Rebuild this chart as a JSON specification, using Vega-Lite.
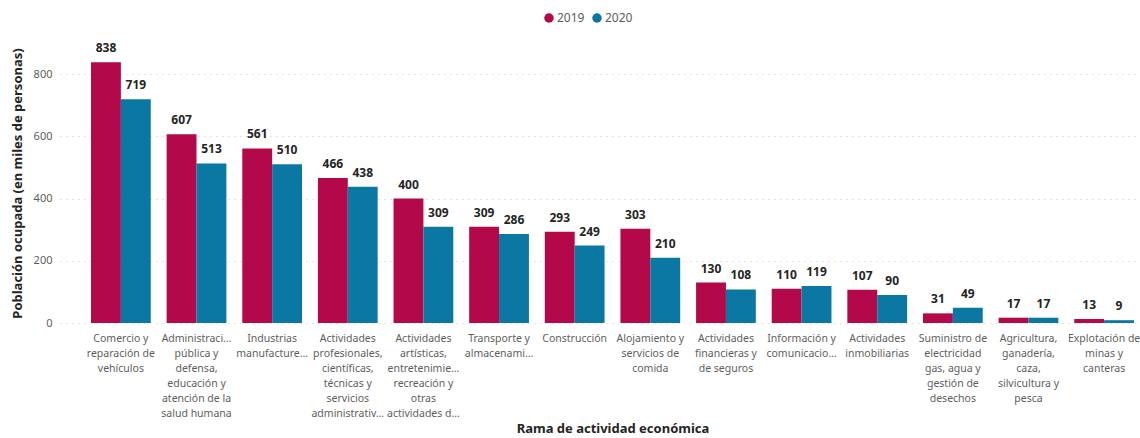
{
  "$schema": "https://vega.github.io/schema/vega-lite/v6.json",
  "width": 1105,
  "height": 280,
  "autosize": {"type": "none"},
  "padding": {"left": 60, "top": 43, "right": 0, "bottom": 115},
  "background": "white",
  "config": {
    "view": {"stroke": null},
    "font": "Noto Sans"
  },
  "data": {
    "values": [
      {"rama": "Comercio y|reparación de|vehículos", "orden": 1, "anio": "2019", "valor": 838},
      {"rama": "Comercio y|reparación de|vehículos", "orden": 1, "anio": "2020", "valor": 719},
      {"rama": "Administraci…|pública y|defensa,|educación y|atención de la|salud humana", "orden": 2, "anio": "2019", "valor": 607},
      {"rama": "Administraci…|pública y|defensa,|educación y|atención de la|salud humana", "orden": 2, "anio": "2020", "valor": 513},
      {"rama": "Industrias|manufacture…", "orden": 3, "anio": "2019", "valor": 561},
      {"rama": "Industrias|manufacture…", "orden": 3, "anio": "2020", "valor": 510},
      {"rama": "Actividades|profesionales,|científicas,|técnicas y|servicios|administrativ…", "orden": 4, "anio": "2019", "valor": 466},
      {"rama": "Actividades|profesionales,|científicas,|técnicas y|servicios|administrativ…", "orden": 4, "anio": "2020", "valor": 438},
      {"rama": "Actividades|artísticas,|entretenimie…|recreación y|otras|actividades d…", "orden": 5, "anio": "2019", "valor": 400},
      {"rama": "Actividades|artísticas,|entretenimie…|recreación y|otras|actividades d…", "orden": 5, "anio": "2020", "valor": 309},
      {"rama": "Transporte y|almacenami…", "orden": 6, "anio": "2019", "valor": 309},
      {"rama": "Transporte y|almacenami…", "orden": 6, "anio": "2020", "valor": 286},
      {"rama": "Construcción", "orden": 7, "anio": "2019", "valor": 293},
      {"rama": "Construcción", "orden": 7, "anio": "2020", "valor": 249},
      {"rama": "Alojamiento y|servicios de|comida", "orden": 8, "anio": "2019", "valor": 303},
      {"rama": "Alojamiento y|servicios de|comida", "orden": 8, "anio": "2020", "valor": 210},
      {"rama": "Actividades|financieras y|de seguros", "orden": 9, "anio": "2019", "valor": 130},
      {"rama": "Actividades|financieras y|de seguros", "orden": 9, "anio": "2020", "valor": 108},
      {"rama": "Información y|comunicacio…", "orden": 10, "anio": "2019", "valor": 110},
      {"rama": "Información y|comunicacio…", "orden": 10, "anio": "2020", "valor": 119},
      {"rama": "Actividades|inmobiliarias", "orden": 11, "anio": "2019", "valor": 107},
      {"rama": "Actividades|inmobiliarias", "orden": 11, "anio": "2020", "valor": 90},
      {"rama": "Suministro de|electricidad|gas, agua y|gestión de|desechos", "orden": 12, "anio": "2019", "valor": 31},
      {"rama": "Suministro de|electricidad|gas, agua y|gestión de|desechos", "orden": 12, "anio": "2020", "valor": 49},
      {"rama": "Agricultura,|ganadería,|caza,|silvicultura y|pesca", "orden": 13, "anio": "2019", "valor": 17},
      {"rama": "Agricultura,|ganadería,|caza,|silvicultura y|pesca", "orden": 13, "anio": "2020", "valor": 17},
      {"rama": "Explotación de|minas y|canteras", "orden": 14, "anio": "2019", "valor": 13},
      {"rama": "Explotación de|minas y|canteras", "orden": 14, "anio": "2020", "valor": 9}
    ]
  },
  "encoding": {
    "x": {
      "field": "rama",
      "type": "nominal",
      "sort": {"field": "orden", "op": "min", "order": "ascending"},
      "scale": {"paddingInner": 0.21, "paddingOuter": 0.41},
      "axis": {
        "title": "Rama de actividad económica",
        "titleFontSize": 13,
        "titleFontWeight": "bold",
        "titleColor": "#252423",
        "titleY": 105,
        "titleBaseline": "middle",
        "labelExpr": "split(datum.value, '|')",
        "labelAngle": 0,
        "labelFontSize": 10.5,
        "labelColor": "#605E5C",
        "labelLineHeight": 15,
        "labelPadding": 10,
        "labelLimit": 0,
        "labelOverlap": false,
        "labelBaseline": "top",
        "ticks": false,
        "domain": false
      }
    },
    "xOffset": {"field": "anio", "type": "nominal", "scale": {"paddingInner": 0}},
    "y": {
      "field": "valor",
      "type": "quantitative",
      "scale": {"domain": [0, 900], "nice": false},
      "axis": {
        "title": "Población ocupada (en miles de personas)",
        "titleFontSize": 13,
        "titleFontWeight": "bold",
        "titleColor": "#252423",
        "titleX": -36,
        "values": [0, 200, 400, 600, 800],
        "labelFontSize": 11,
        "labelColor": "#605E5C",
        "labelPadding": 8,
        "ticks": false,
        "domain": false,
        "grid": true,
        "gridDash": [1, 5],
        "gridColor": "#C8C8C8",
        "gridWidth": 1
      }
    }
  },
  "layer": [
    {
      "mark": {"type": "bar"},
      "encoding": {
        "color": {
          "field": "anio",
          "type": "nominal",
          "scale": {"domain": ["2019", "2020"], "range": ["#B3094B", "#0B77A3"]},
          "legend": {
            "title": null,
            "orient": "none",
            "direction": "horizontal",
            "legendX": 483,
            "legendY": -31,
            "symbolType": "circle",
            "symbolSize": 90,
            "symbolStrokeWidth": 0,
            "labelFontSize": 12,
            "labelColor": "#605E5C",
            "labelOffset": 2,
            "columnPadding": 6
          }
        }
      }
    },
    {
      "mark": {"type": "text", "baseline": "bottom", "dy": -7, "fontSize": 12, "fontWeight": "bold", "color": "#252423"},
      "encoding": {
        "text": {"field": "valor", "type": "quantitative"}
      }
    }
  ]
}
